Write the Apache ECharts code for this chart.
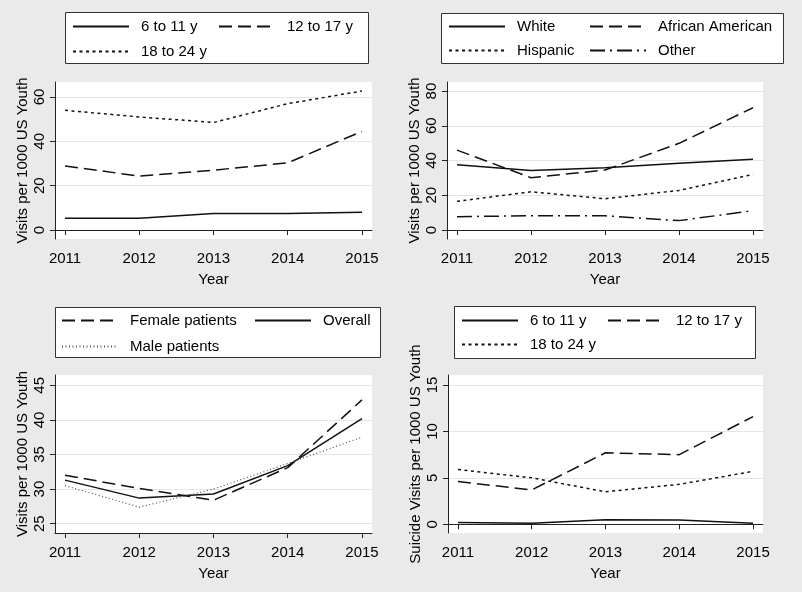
<!DOCTYPE html>
<html>
<head>
<meta charset="utf-8">
<script src="https://cdn.jsdelivr.net/npm/echarts@6/dist/echarts.min.js"></script>
<style>
html,body{margin:0;padding:0;background:#eaeaea;}
#chart{width:802px;height:592px;}
</style>
</head>
<body>
<div id="chart"></div>
<script>
const years = [2011, 2012, 2013, 2014, 2015];
// Panel 1: age groups
const age611 = [5.3, 5.3, 7.4, 7.4, 8.0];
const age1217 = [28.9, 24.3, 27.0, 30.3, 44.5];
const age1824 = [54.0, 51.0, 48.5, 57.0, 62.7];
// Panel 2: race/ethnicity
const white = [37.6, 34.3, 35.9, 38.4, 40.7];
const africanAmerican = [46.0, 30.1, 34.5, 49.9, 70.4];
const hispanic = [16.5, 22.0, 18.0, 22.8, 32.0];
const other = [7.7, 8.2, 8.2, 5.4, 11.1];
// Panel 3: sex
const female = [32.0, 30.1, 28.4, 33.1, 42.9];
const overall = [31.3, 28.7, 29.3, 33.4, 40.2];
const male = [30.5, 27.4, 30.0, 33.7, 37.5];
// Panel 4: suicide visits by age
const suicide611 = [0.2, 0.1, 0.5, 0.45, 0.1];
const suicide1217 = [4.6, 3.7, 7.7, 7.5, 11.6];
const suicide1824 = [5.9, 5.0, 3.5, 4.3, 5.7];
// Tick labels
const yTicks1 = [0, 20, 40, 60];
const yTicks2 = [0, 20, 40, 60, 80];
const yTicks3 = [25, 30, 35, 40, 45];
const yTicks4 = [0, 5, 10, 15];

const FONT = 'Liberation Sans, Arial, sans-serif';
const AXIS_COLOR = '#222';
const pair = arr => years.map((y, i) => [y, arr[i]]);

const grids = [
  {left: 55, top: 82, width: 317, height: 157},
  {left: 447, top: 82, width: 316, height: 157},
  {left: 55, top: 375, width: 317, height: 158},
  {left: 448, top: 375, width: 315, height: 158}
].map(g => Object.assign({show: true, backgroundColor: '#ffffff', borderWidth: 0, containLabel: false}, g));

const xPad = 0.135;
const xAxes = [0, 1, 2, 3].map(i => ({
  type: 'value', gridIndex: i,
  min: 2011 - xPad, max: 2015 + xPad,
  name: 'Year', nameLocation: 'middle', nameGap: 33,
  nameTextStyle: {fontSize: 15, color: '#000', fontFamily: FONT},
  axisLine: {show: true, lineStyle: {color: AXIS_COLOR, width: 1}},
  axisTick: {show: true, length: 5, lineStyle: {color: AXIS_COLOR}, customValues: years},
  axisLabel: {fontSize: 15, color: '#000', fontFamily: FONT, margin: 12, customValues: years, formatter: v => String(Math.round(v))},
  splitLine: {show: false}
}));

function yAxis(i, ticks, min, max, name) {
  return {
    type: 'value', gridIndex: i, min: min, max: max,
    name: name, nameLocation: 'middle', nameGap: 25, nameRotate: 90,
    nameTextStyle: {fontSize: 15, color: '#000', fontFamily: FONT},
    axisLine: {show: true, lineStyle: {color: AXIS_COLOR, width: 1}},
    axisTick: {show: true, length: 5, lineStyle: {color: AXIS_COLOR}, customValues: ticks},
    axisLabel: {fontSize: 15, color: '#000', fontFamily: FONT, rotate: 90, margin: 8, customValues: ticks},
    splitLine: {show: true, lineStyle: {color: '#e6e6e6', width: 1}}
  };
}
const yAxes = [
  yAxis(0, yTicks1, -4.06, 66.77, 'Visits per 1000 US Youth'),
  yAxis(1, yTicks2, -5.18, 85.2, 'Visits per 1000 US Youth'),
  yAxis(2, yTicks3, 23.66, 46.49, 'Visits per 1000 US Youth'),
  yAxis(3, yTicks4, -0.94, 16.08, 'Suicide Visits per 1000 US Youth')
];

const SOLID = 'solid';
const DASH = [13, 6];
const DOT = [3, 3.5];
const DASHDOT = [15, 5, 2, 5];
const FINEDOT = [1, 2.5];

function line(name, idx, arr, type, opts) {
  opts = opts || {};
  return {
    type: 'line', name: name, xAxisIndex: idx, yAxisIndex: idx,
    data: pair(arr), symbol: 'none', showSymbol: false, silent: true,
    lineStyle: {color: opts.color || '#111', width: opts.width || 1.5, type: type},
    itemStyle: {color: opts.color || '#111'},
    emphasis: {disabled: true}, animation: false
  };
}

const series = [
  line('6 to 11 y', 0, age611, SOLID),
  line('12 to 17 y', 0, age1217, DASH),
  line('18 to 24 y', 0, age1824, DOT),
  line('White', 1, white, SOLID),
  line('African American', 1, africanAmerican, DASH),
  line('Hispanic', 1, hispanic, DOT),
  line('Other', 1, other, DASHDOT),
  line('Female patients', 2, female, DASH),
  line('Overall', 2, overall, SOLID),
  line('Male patients', 2, male, FINEDOT, {color: '#555', width: 1.2}),
  line('6 to 11 y ', 3, suicide611, SOLID),
  line('12 to 17 y ', 3, suicide1217, DASH),
  line('18 to 24 y ', 3, suicide1824, DOT)
];

function leg(name, left, yCenter, label) {
  return {
    data: [name], left: left, top: yCenter - 8, padding: 0,
    itemWidth: 56, itemHeight: 16, selectedMode: false,
    itemStyle: {opacity: 0},
    formatter: label ? () => label : undefined,
    textStyle: {fontSize: 15, color: '#000', fontFamily: FONT, padding: [0, 0, 0, 7]}
  };
}
const legends = [
  leg('6 to 11 y', 72, 27), leg('12 to 17 y', 218, 27), leg('18 to 24 y', 72, 52),
  leg('White', 448, 27), leg('African American', 589, 27), leg('Hispanic', 448, 51), leg('Other', 589, 51),
  leg('Female patients', 61, 321), leg('Overall', 254, 321), leg('Male patients', 61, 347),
  leg('6 to 11 y ', 461, 321, '6 to 11 y'), leg('12 to 17 y ', 607, 321, '12 to 17 y'), leg('18 to 24 y ', 461, 345, '18 to 24 y')
];

function box(x, y, w, h) {
  return {type: 'rect', shape: {x: x, y: y, width: w, height: h}, z: -1, silent: true,
    style: {fill: '#ffffff', stroke: '#333', lineWidth: 1}};
}

const option = {
  backgroundColor: '#eaeaea',
  animation: false,
  grid: grids,
  xAxis: xAxes,
  yAxis: yAxes,
  legend: legends,
  series: series,
  graphic: [
    box(65.5, 12.5, 303, 51),
    box(441.5, 13.5, 342, 50),
    box(55.5, 307.5, 325, 50),
    box(454.5, 306.5, 301, 52)
  ]
};

const chart = echarts.init(document.getElementById('chart'), null, {renderer: 'canvas'});
chart.setOption(option);
</script>
</body>
</html>
